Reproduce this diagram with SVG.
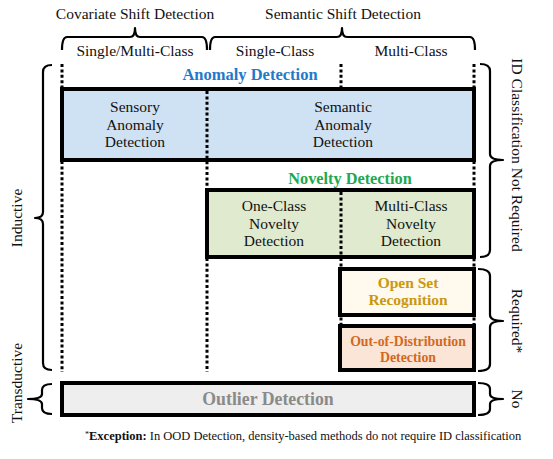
<svg xmlns="http://www.w3.org/2000/svg" width="553" height="459" viewBox="0 0 553 459">
<style>
text{font-family:"Liberation Serif","Times New Roman",serif;fill:#111}
.t{font-size:15.5px;text-anchor:middle}
.b{font-weight:bold;text-anchor:middle}
.box{stroke:#000;stroke-width:4}
.dot{stroke:#000;stroke-width:3;stroke-dasharray:3 2.4;fill:none}
.br{stroke:#000;stroke-width:2.2;fill:none;stroke-linejoin:round}
</style>
<rect width="553" height="459" fill="#fff"/>

<g id="headers">
<text class="t" x="135" y="19">Covariate Shift Detection</text>
<text class="t" x="343" y="19">Semantic Shift Detection</text>
<text class="t" x="135" y="56">Single/Multi-Class</text>
<text class="t" x="275" y="56">Single-Class</text>
<text class="t" x="411" y="56">Multi-Class</text>
<path class="br" d="M62,50 Q62,37 67,37 L130,37 Q135,37 135,28 Q135,37 140,37 L202,37 Q207,37 207,50"/>
<path class="br" d="M210,50 Q210,37 215,37 L337,37 Q342,37 342,28 Q342,37 347,37 L470,37 Q475,37 475,50"/>
</g>

<g id="connectors">
<line class="dot" x1="62" y1="64" x2="62" y2="87"/>
<line class="dot" x1="62" y1="161" x2="62" y2="372"/>
<line class="dot" x1="341" y1="64" x2="341" y2="87"/>
<line class="dot" x1="474" y1="64" x2="474" y2="87"/>
<line class="dot" x1="474" y1="161" x2="474" y2="372"/>
<line class="dot" x1="341" y1="258" x2="341" y2="372"/>
<line class="dot" x1="207" y1="258" x2="207" y2="372"/>
</g>

<g id="anomaly">
<text class="b" x="250" y="80" font-size="16.5" style="fill:#1f7acb">Anomaly Detection</text>
<rect class="box" x="62" y="89" width="412" height="71" fill="#cfe2f3"/>
<line class="dot" x1="207" y1="91" x2="207" y2="189"/>
<text class="t" x="135" y="112">Sensory</text>
<text class="t" x="135" y="130">Anomaly</text>
<text class="t" x="135" y="147">Detection</text>
<text class="t" x="343" y="112">Semantic</text>
<text class="t" x="343" y="130">Anomaly</text>
<text class="t" x="343" y="147">Detection</text>
</g>

<g id="novelty">
<text class="b" x="350" y="184" font-size="16.3" style="fill:#1ea84f">Novelty Detection</text>
<rect class="box" x="207" y="190" width="267" height="67" fill="#dfeacf"/>
<line class="dot" x1="341" y1="192" x2="341" y2="256"/>
<text class="t" x="274" y="211">One-Class</text>
<text class="t" x="274" y="229">Novelty</text>
<text class="t" x="274" y="246">Detection</text>
<text class="t" x="411" y="211">Multi-Class</text>
<text class="t" x="411" y="229">Novelty</text>
<text class="t" x="411" y="246">Detection</text>
</g>

<g id="osr">
<rect class="box" x="340" y="269" width="134" height="46" fill="#fff9ee"/>
<text class="b" x="408" y="288" font-size="15.5" style="fill:#c9980f">Open Set</text>
<text class="b" x="408" y="305" font-size="15.5" style="fill:#c9980f">Recognition</text>
</g>

<g id="ood">
<rect class="box" x="340" y="326" width="134" height="44" fill="#fbe5d6"/>
<text class="b" x="408" y="346" font-size="13.8" style="fill:#d2691f">Out-of-Distribution</text>
<text class="b" x="408" y="362" font-size="13.8" style="fill:#d2691f">Detection</text>
</g>

<g id="outlier">
<rect class="box" x="62" y="383" width="412" height="32" fill="#eeeeee"/>
<text class="b" x="268" y="405" font-size="17.8" style="fill:#8a8a8a">Outlier Detection</text>
</g>

<g id="side-labels">
<path class="br" d="M52,65 Q43,65 43,72 L43,212 Q43,218 35,218 Q43,218 43,224 L43,363 Q43,370 52,370"/>
<text class="t" transform="translate(22,218) rotate(-90)">Inductive</text>
<path class="br" d="M52,384 Q42,384 42,390 L42,394 Q42,399 28,399 Q42,399 42,404 L42,408 Q42,414 52,414"/>
<text class="t" transform="translate(22,383) rotate(-90)">Transductive</text>
<path class="br" d="M480,64 Q490,64 490,71 L490,154 Q490,160 503,160 Q490,160 490,166 L490,250 Q490,257 480,257"/>
<text class="t" transform="translate(512,155) rotate(90)">ID Classification Not Required</text>
<path class="br" d="M478,269 Q490,269 490,276 L490,315 Q490,321 503,321 Q490,321 490,327 L490,364 Q490,371 478,371"/>
<text class="t" transform="translate(512,321) rotate(90)">Required*</text>
<path class="br" d="M478,383 Q490,383 490,389 L490,394 Q490,399 503,399 Q490,399 490,404 L490,409 Q490,415 478,415"/>
<text class="t" transform="translate(512,399) rotate(90)">No</text>
</g>

<g id="footnote">
<text x="85" y="440" font-size="12.5"><tspan font-size="8" dy="-3">*</tspan><tspan dy="3" font-weight="bold">Exception:</tspan> In OOD Detection, density-based methods do not require ID classification</text>
</g>
</svg>
